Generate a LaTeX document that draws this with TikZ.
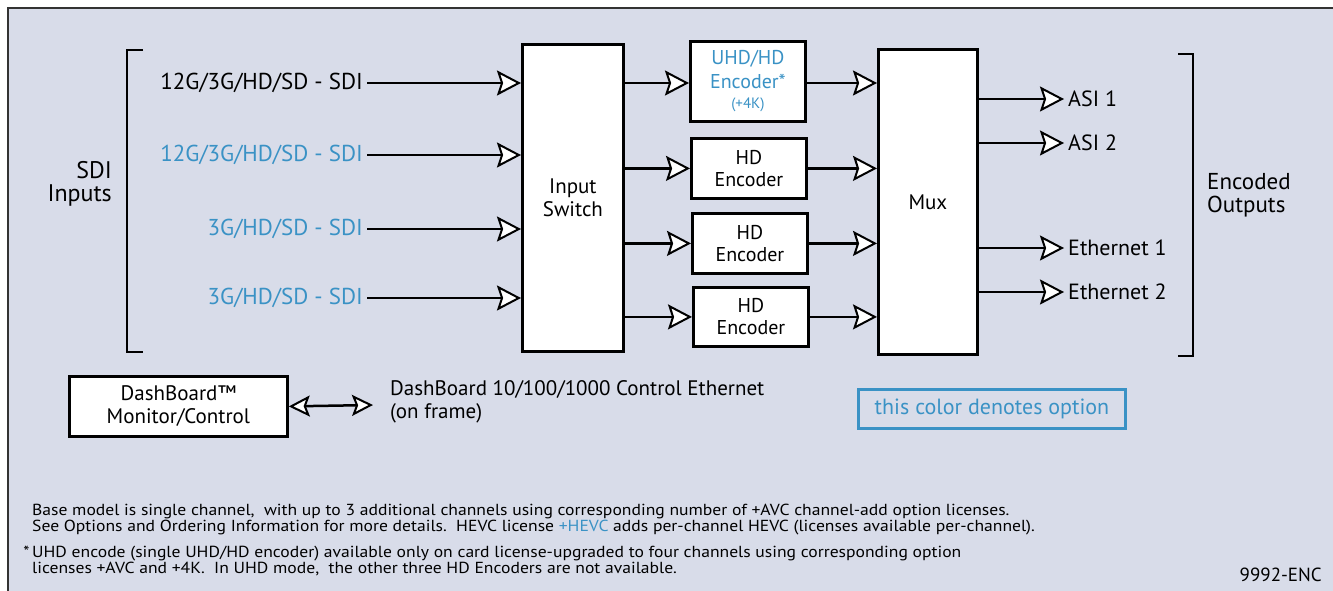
\documentclass[tikz,border=0pt]{standalone}
\usepackage{fontspec}
\setmainfont{PT Sans}
\newfontfamily\notefont[FakeStretch=1.1]{PT Sans}
\usetikzlibrary{arrows.meta}
\definecolor{optblue}{HTML}{3A92C5}
\definecolor{panel}{HTML}{D8DCE9}
\definecolor{frame}{HTML}{333333}
\newcommand{\lw}{2.5pt}
\newcommand{\lblfont}{\fontsize{21}{23}\selectfont}

\begin{document}
\begin{tikzpicture}[x=1pt,y=-1pt,
    box/.style={draw, line width=2.8pt, fill=white, anchor=north west, inner sep=0pt, align=center, font=\lblfont},
    lbl/.style={inner sep=4pt, font=\lblfont},
    note/.style={inner sep=0pt, anchor=west, align=left, font=\notefont\fontsize{16}{16}\selectfont},
    flow/.style={line width=\lw, -{Stealth[length=24pt,width=25pt,inset=4pt,fill=white,line width=2pt]}},
    both/.style={line width=\lw, {Stealth[length=21pt,width=21pt,inset=4pt,fill=white,line width=2pt]}-{Stealth[length=21pt,width=21pt,inset=4pt,fill=white,line width=2pt]}}]
    \useasboundingbox (0,0) rectangle (1333,590);

    % Panel
    \fill[panel] (8,8) rectangle (1345,600);
    \draw[frame, line width=2.5pt] (8,600) -- (8,8) -- (1345,8);

    % Inputs
    \draw[line width=2.5pt] (143,50) -- (127,50) -- (127,352) -- (143,352);
    \node[lbl, anchor=east, align=right, font=\fontsize{24}{23}\selectfont] (sdi-in) at (116,184) {SDI\\Inputs};
    \node[lbl, anchor=east, font=\fontsize{23}{25}\selectfont] (in-1) at (367,83) {12G/3G/HD/SD - SDI};
    \node[lbl, anchor=east, font=\fontsize{23}{25}\selectfont, text=optblue] (in-2) at (367,155) {12G/3G/HD/SD - SDI};
    \node[lbl, anchor=east, font=\fontsize{23}{25}\selectfont, text=optblue] (in-3) at (367,229) {3G/HD/SD - SDI};
    \node[lbl, anchor=east, font=\fontsize{23}{25}\selectfont, text=optblue] (in-4) at (367,298) {3G/HD/SD - SDI};

    % Blocks
    \node[box, minimum width=101pt, minimum height=307pt] (sw) at (521,43) {Input\\Switch};
    \node[box, minimum width=115pt, minimum height=80pt, text=optblue, font=\fontsize{20}{24}\selectfont] (enc-1) at (689,40)
        {UHD/HD\\Encoder*\\[-4pt]{\fontsize{15}{17}\selectfont(+4K)}};
    \node[box, minimum width=115pt, minimum height=60pt, font=\fontsize{20}{22}\selectfont] (enc-2) at (690,137) {HD\\Encoder};
    \node[box, minimum width=115pt, minimum height=60pt, font=\fontsize{20}{22}\selectfont] (enc-3) at (691,212) {HD\\Encoder};
    \node[box, minimum width=115pt, minimum height=59pt, font=\fontsize{20}{22}\selectfont] (enc-4) at (692,286) {HD\\Encoder};
    \node[box, minimum width=99pt, minimum height=305pt] (mux) at (877,48) {Mux};

    \draw[flow] (in-1.east) -- (in-1.east -| sw.west);
    \draw[flow] (in-2.east) -- (in-2.east -| sw.west);
    \draw[flow] (in-3.east) -- (in-3.east -| sw.west);
    \draw[flow] (in-4.east) -- (in-4.east -| sw.west);

    \draw[flow] (sw.east |- 0,83) -- (enc-1.west |- 0,83);
    \draw[flow] (sw.east |- enc-2.west) -- (enc-2.west);
    \draw[flow] (sw.east |- enc-3.west) -- (enc-3.west);
    \draw[flow] (sw.east |- enc-4.west) -- (enc-4.west);

    \draw[flow] (enc-1.east |- 0,83) -- (mux.west |- 0,83);
    \draw[flow] (enc-2.east) -- (mux.west |- enc-2.east);
    \draw[flow] (enc-3.east) -- (mux.west |- enc-3.east);
    \draw[flow] (enc-4.east) -- (mux.west |- enc-4.east);

    % Outputs
    \node[lbl, anchor=west, font=\fontsize{22}{24}\selectfont] (out-1) at (1064,99) {ASI 1};
    \node[lbl, anchor=west, font=\fontsize{22}{24}\selectfont] (out-2) at (1064,143) {ASI 2};
    \node[lbl, anchor=west, font=\fontsize{22}{24}\selectfont] (out-3) at (1064,248) {Ethernet 1};
    \node[lbl, anchor=west, font=\fontsize{22}{24}\selectfont] (out-4) at (1064,292) {Ethernet 2};
    \draw[flow] (mux.east |- out-1.west) -- (out-1.west);
    \draw[flow] (mux.east |- out-2.west) -- (out-2.west);
    \draw[flow] (mux.east |- out-3.west) -- (out-3.west);
    \draw[flow] (mux.east |- out-4.west) -- (out-4.west);
    \draw[line width=2.5pt] (1178,54) -- (1193,54) -- (1193,356) -- (1178,356);
    \node[lbl, anchor=west, align=left, font=\fontsize{23}{23}\selectfont] (enc-out) at (1203,195) {Encoded\\Outputs};

    % Control
    \node[box, minimum width=218pt, minimum height=60pt] (dash) at (68,375) {DashBoard™\\Monitor/Control};
    \coordinate (ctl) at (373,405);
    \draw[both] (dash.east) -- (ctl);
    \node[lbl, anchor=west, align=left] (ctl-txt) at (386,402) {DashBoard 10/100/1000 Control Ethernet\\(on frame)};
    \node[draw=optblue, line width=3pt, anchor=north west, minimum width=267pt, minimum height=39pt,
        text=optblue, font=\fontsize{22}{24}\selectfont] (opt) at (857,388) {this color denotes option};

    % Notes
    \node[note] (note-1) at (32,520) {Base model is single channel,\ \ with up to 3 additional channels using corresponding number of +AVC channel-add option licenses.\\See Options and Ordering Information for more details.\ \ HEVC license \textcolor{optblue}{+HEVC} adds per-channel HEVC (licenses available per-channel).};
    \node[note] (note-2) at (32,561) {\llap{*\,}UHD encode (single UHD/HD encoder) available only on card license-upgraded to four channels using corresponding option\\licenses +AVC and +4K.\ \ In UHD mode,\ \ the other three HD Encoders are not available.};
    \node[inner sep=0pt, anchor=east, font=\fontsize{19}{21}\selectfont] (tag) at (1322,575) {9992-ENC};

\end{tikzpicture}
\end{document}
